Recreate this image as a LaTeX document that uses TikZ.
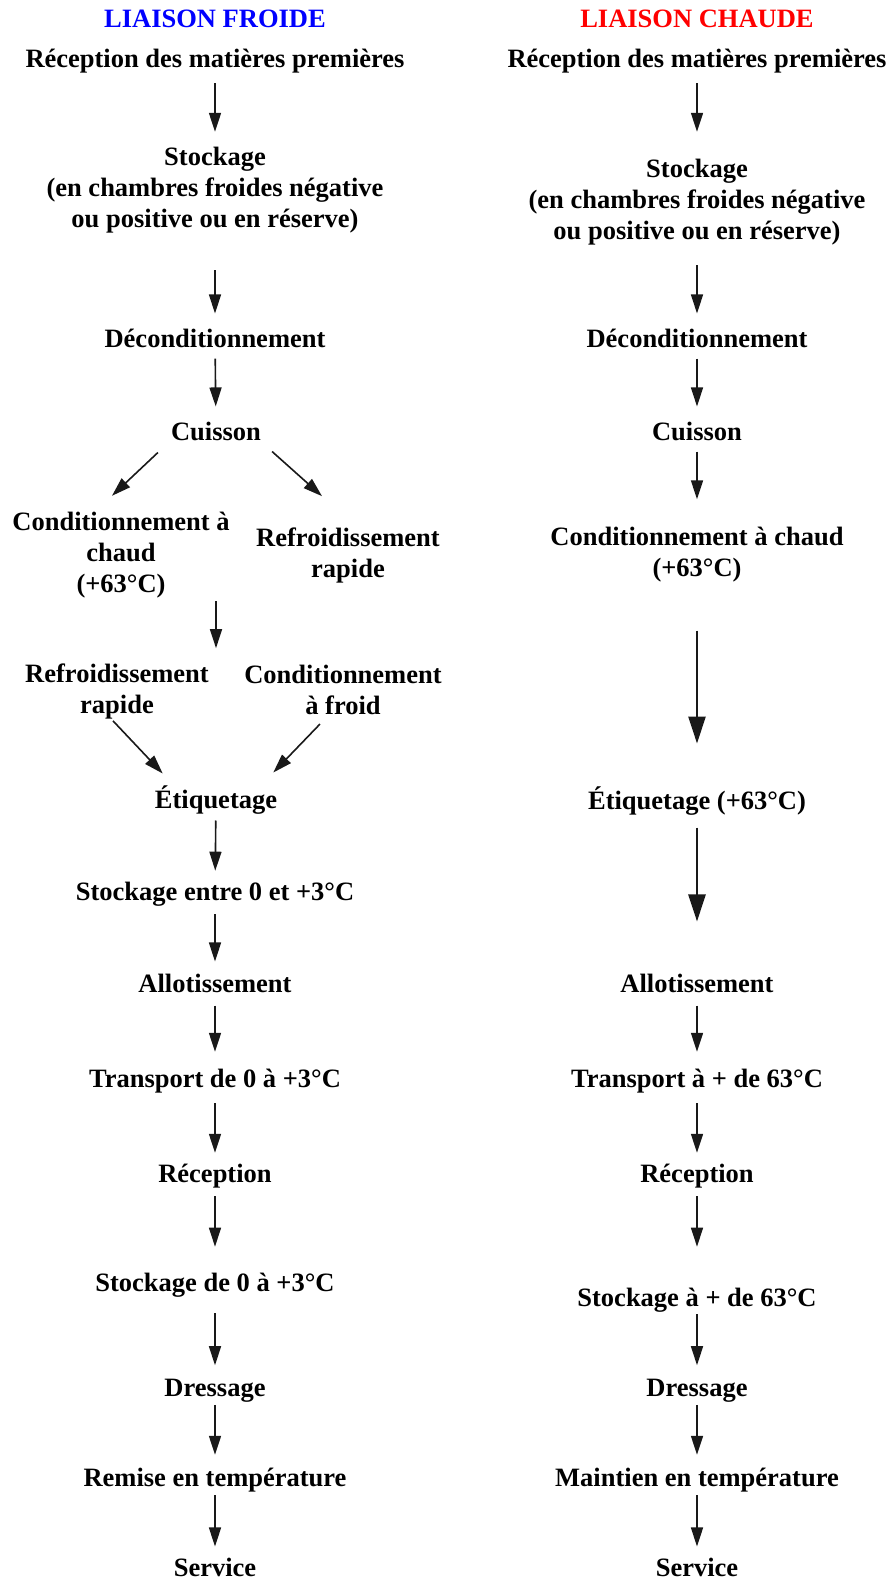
\documentclass[tikz,border=0pt]{standalone}
\usepackage{fontspec}
\setmainfont{Liberation Serif}
\usetikzlibrary{arrows.meta,positioning}

\tikzset{
  etape/.style={font=\bfseries\fontsize{26.5}{31}\selectfont, align=center, inner sep=0pt},
  fleche/.style={-{Triangle[length=19pt,width=12pt]}, line width=1.6pt, black!90},
  fl/.style 2 args={fleche, shorten <=#1pt, shorten >=#2pt},
  grossefl/.style 2 args={fl={#1}{#2}, line width=2.6pt, -{Triangle[length=27pt,width=17pt]}},
}

\begin{document}
\begin{tikzpicture}[x=1pt,y=-1pt]
    \useasboundingbox (0,0) rectangle (890,1579);

    % Liaison froide
    \node[etape, blue] (titreF) at (215,19) {LIAISON FROIDE};
    \node[etape] (recF) at (215,61) {Réception des matières premières};
    \node[etape] (stockF) at (215,190) {Stockage\\(en chambres froides négative\\ou positive ou en réserve)};
    \node[etape] (decondF) at (215,338) {Déconditionnement};
    \node[etape] (cuisF) at (216,431) {Cuisson};
    \node[etape] (chaudF) at (121,555) {Conditionnement à\\chaud\\(+63°C)};
    \node[etape] (refrF) at (348,555) {Refroidissement\\rapide};
    \node[etape] (refrF2) at (117,691) {Refroidissement\\rapide};
    \node[etape] (froidF) at (343,690) {Conditionnement\\à froid};
    \node[etape] (etiqF) at (216,800) {Étiquetage};
    \node[etape] (stockF2) at (215,894) {Stockage entre 0 et +3°C};
    \node[etape] (allotF) at (215,983) {Allotissement};
    \node[etape] (transF) at (215,1081) {Transport de 0 à +3°C};
    \node[etape] (recepF) at (215,1176) {Réception};
    \node[etape] (stockF3) at (215,1285) {Stockage de 0 à +3°C};
    \node[etape] (dressF) at (215,1391) {Dressage};
    \node[etape] (remiseF) at (215,1480) {Remise en température};
    \node[etape] (servF) at (215,1567) {Service};

    % Liaison chaude
    \node[etape, red] (titreC) at (697,19) {LIAISON CHAUDE};
    \node[etape] (recC) at (697,61) {Réception des matières premières};
    \node[etape] (stockC) at (697,202) {Stockage\\(en chambres froides négative\\ou positive ou en réserve)};
    \node[etape] (decondC) at (697,338) {Déconditionnement};
    \node[etape] (cuisC) at (697,431) {Cuisson};
    \node[etape] (chaudC) at (697,555) {Conditionnement à chaud\\(+63°C)};
    \node[etape] (etiqC) at (697,801) {Étiquetage (+63°C)};
    \node[etape] (allotC) at (697,983) {Allotissement};
    \node[etape] (transC) at (697,1081) {Transport à + de 63°C};
    \node[etape] (recepC) at (697,1176) {Réception};
    \node[etape] (stockC3) at (697,1300) {Stockage à + de 63°C};
    \node[etape] (dressC) at (697,1391) {Dressage};
    \node[etape] (maintC) at (697,1480) {Maintien en température};
    \node[etape] (servC) at (697,1567) {Service};

    % Fleches froide
    \draw[fl={10}{15}] (recF) -- (stockF);
    \draw[fl={37}{15}] (stockF) -- (decondF);
    \draw[fl={11}{15}] (decondF) -- (cuisF);
    \draw[fleche] ([shift={(-13pt,-12pt)}]cuisF.south west) -- ([shift={(-9pt,16pt)}]chaudF.north);
    \draw[fleche] ([shift={(11pt,-11pt)}]cuisF.south east) -- ([shift={(-26pt,31pt)}]refrF.north);
    \draw[fl={3}{15}] (cuisF |- chaudF.south) -- (cuisF |- refrF2.north);
    \draw[fleche] ([shift={(-4pt,-2pt)}]refrF2.south) -- ([shift={(8pt,12pt)}]etiqF.north west);
    \draw[fleche] ([shift={(-23pt,-9pt)}]froidF.south) -- ([shift={(-4pt,13pt)}]etiqF.north east);
    \draw[fl={6}{11}] (etiqF) -- (stockF2);
    \draw[fl={8}{12}] (stockF2) -- (allotF);
    \draw[fl={13}{17}] (allotF) -- (transF);
    \draw[fl={10}{11}] (transF) -- (recepF);
    \draw[fl={8}{26}] (recepF) -- (stockF3);
    \draw[fl={16}{14}] (stockF3) -- (dressF);
    \draw[fl={2}{13}] (dressF) -- (remiseF);
    \draw[fl={3}{11}] (remiseF) -- (servF);

    % Fleches chaude
    \draw[fl={10}{27}] (recC) -- (stockC);
    \draw[fl={20}{15}] (stockC) -- (decondC);
    \draw[fl={11}{15}] (decondC) -- (cuisC);
    \draw[fl={11}{28}] (cuisC) -- (chaudC);
    \draw[grossefl={48}{43}] (chaudC) -- (etiqC);
    \draw[grossefl={12}{52}] (etiqC) -- (allotC);
    \draw[fl={13}{17}] (allotC) -- (transC);
    \draw[fl={10}{11}] (transC) -- (recepC);
    \draw[fl={8}{41}] (recepC) -- (stockC3);
    \draw[fl={2}{14}] (stockC3) -- (dressC);
    \draw[fl={2}{13}] (dressC) -- (maintC);
    \draw[fl={3}{11}] (maintC) -- (servC);
\end{tikzpicture}
\end{document}
